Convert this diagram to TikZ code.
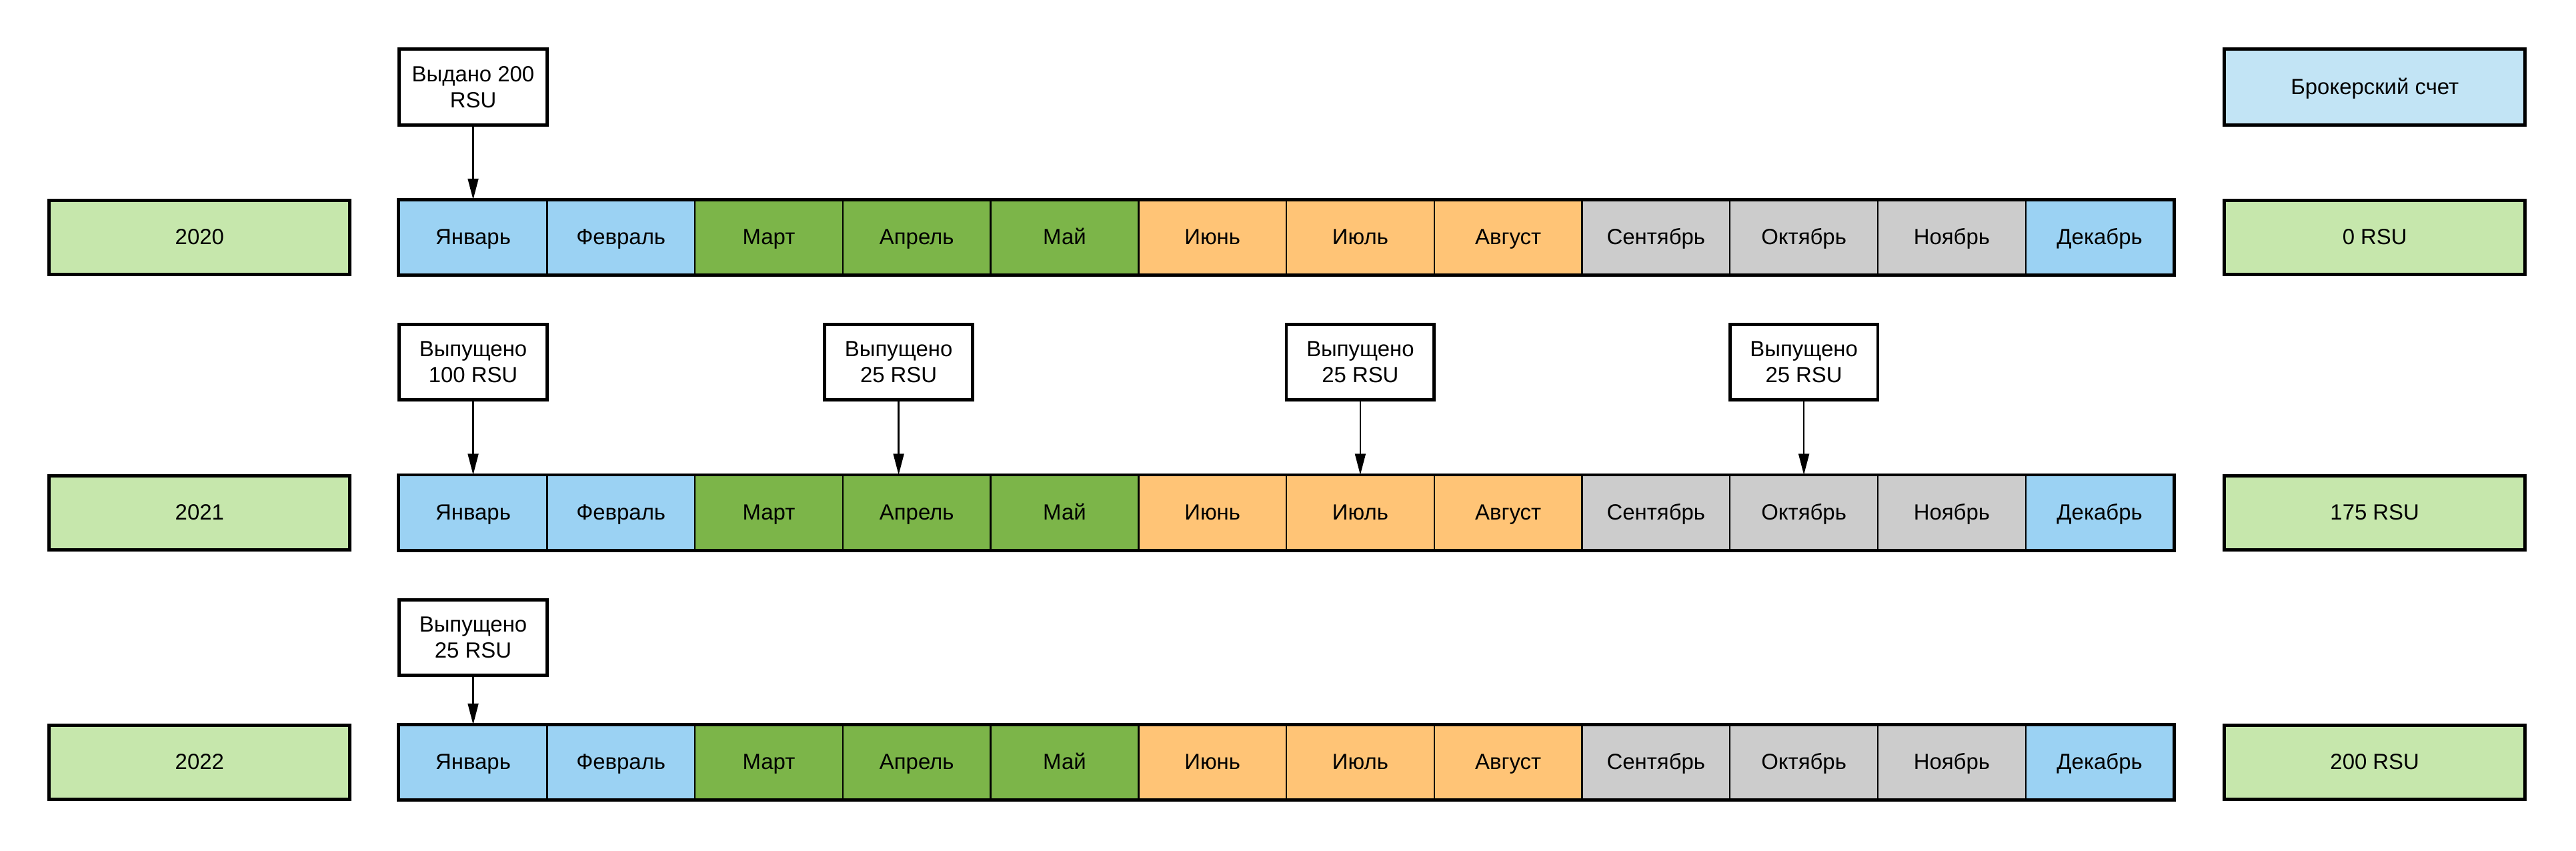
\documentclass[tikz,border=0pt]{standalone}
\usepackage{fontspec}
\setmainfont{Liberation Sans}
\usetikzlibrary{arrows.meta, positioning}
\definecolor{rsublue}{HTML}{9BD2F3}
\definecolor{rsugreen}{HTML}{7CB549}
\definecolor{rsuorange}{HTML}{FFC476}
\definecolor{rsugrey}{HTML}{CCCCCC}
\definecolor{rsuyear}{HTML}{C6E7AC}
\definecolor{rsubroker}{HTML}{C2E4F5}
\tikzset{
  >={Triangle[length=3.2mm, width=1.6mm]},
  box/.style={rectangle, draw=black, line width=1.4pt, align=center, inner sep=2pt,
              minimum width=2.25cm, minimum height=1.15cm,
              font=\fontsize{9.5}{11.2}\selectfont},
  note/.style={box, fill=white},
  yearbox/.style={box, fill=rsuyear, minimum width=4.575cm, minimum height=1.125cm,
                  text height=7.6pt, text depth=1.4pt},
  brokerbox/.style={box, fill=rsubroker, minimum width=4.575cm,
                    text height=7.6pt, text depth=1.4pt},
  cell/.style={box, line width=0.7pt, minimum height=1.125cm,
               text height=7.6pt, text depth=1.4pt},
  flow/.style={->, line width=0.7pt, draw=black},
}
\begin{document}
\begin{tikzpicture}[x=1cm,y=1cm]
  \useasboundingbox (0,0) rectangle (39.2,12.938);
  \foreach \r/\y/\yr/\tot in {1/9.3255/2020/0 RSU, 2/5.138/2021/175 RSU, 3/1.338/2022/200 RSU}{
    \node[yearbox] (y\r) at (3.0375,\y) {\yr};
    \foreach \i/\mon/\col in {1/Январь/rsublue, 2/Февраль/rsublue, 3/Март/rsugreen,
        4/Апрель/rsugreen, 5/Май/rsugreen, 6/Июнь/rsuorange, 7/Июль/rsuorange,
        8/Август/rsuorange, 9/Сентябрь/rsugrey, 10/Октябрь/rsugrey,
        11/Ноябрь/rsugrey, 12/Декабрь/rsublue}{
      \node[cell, fill=\col] (m\r-\i) at ({7.2+2.25*(\i-1)},\y) {\mon};
    }
    \draw[line width=1.4pt] (m\r-1.north west) rectangle (m\r-12.south east);
    \node[yearbox] (t\r) at (36.1375,\y) {\tot};
  }
  \node[brokerbox] (broker) at (36.1375,11.613) {Брокерский счет};
  \node[note] (n1) at (7.2,11.613) {Выдано 200\\RSU};
  \node[note] (n2) at (7.2,7.4255) {Выпущено\\100 RSU};
  \node[note] (n3) at (13.675,7.4255) {Выпущено\\25 RSU};
  \node[note] (n4) at (20.7,7.4255) {Выпущено\\25 RSU};
  \node[note] (n5) at (27.45,7.4255) {Выпущено\\25 RSU};
  \node[note] (n6) at (7.2,3.238) {Выпущено\\25 RSU};
  \draw[flow] (n1) -- (m1-1);
  \draw[flow] (n2) -- (m2-1);
  \draw[flow] (n3.south) -- (n3.south |- m2-4.north);
  \draw[flow] (n4) -- (m2-7);
  \draw[flow] (n5) -- (m2-10);
  \draw[flow] (n6) -- (m3-1);
\end{tikzpicture}
\end{document}
